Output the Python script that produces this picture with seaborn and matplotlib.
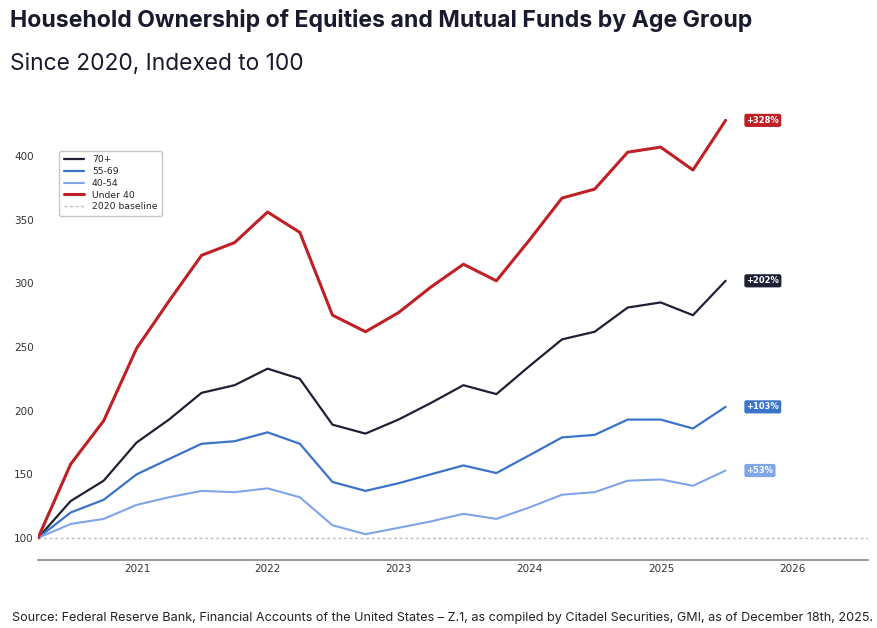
import pandas as pd
import numpy as np
import seaborn as sns
import matplotlib.pyplot as plt
import matplotlib.dates as mdates

# quarterly, indexed to 100 at Q1 2020
quarters = pd.date_range("2020-03-31", periods=22, freq="QE")
under_40 = [100, 158, 192, 249, 286, 322, 332, 356, 340, 275, 262, 277,
            297, 315, 302, 334, 367, 374, 403, 407, 389, 428]
age_70 = [100, 129, 145, 175, 193, 214, 220, 233, 225, 189, 182, 193,
          206, 220, 213, 235, 256, 262, 281, 285, 275, 302]
age_55_69 = [100, 120, 130, 150, 162, 174, 176, 183, 174, 144, 137, 143,
             150, 157, 151, 165, 179, 181, 193, 193, 186, 203]
age_40_54 = [100, 111, 115, 126, 132, 137, 136, 139, 132, 110, 103, 108,
             113, 119, 115, 124, 134, 136, 145, 146, 141, 153]

groups = ["70+", "55-69", "40-54", "Under 40"]
series = {"70+": age_70, "55-69": age_55_69, "40-54": age_40_54, "Under 40": under_40}
colors = {"70+": "#1e2133", "55-69": "#3b73c8", "40-54": "#7ea5e8", "Under 40": "#bf2026"}
widths = {"70+": 1.6, "55-69": 1.6, "40-54": 1.5, "Under 40": 2.2}
end_labels = {"70+": "+202%", "55-69": "+103%", "40-54": "+53%", "Under 40": "+328%"}

df = pd.concat([pd.DataFrame({"date": quarters, "value": series[g], "group": g}) for g in groups])

sns.set_style("white")
plt.rcParams["font.family"] = ["DejaVu Sans"]

fig = plt.figure(figsize=(8.78, 6.28), dpi=100)
ax = fig.add_axes([38 / 878, 1 - 560 / 628, 830 / 878, 460 / 628])

for g in groups:
    d = df[df.group == g]
    sns.lineplot(data=d, x="date", y="value", color=colors[g], lw=widths[g], label=g, ax=ax)

ax.axhline(100, color="#bbbbbb", lw=1, ls=(0, (2, 2)), label="2020 baseline", zorder=0)

# end-of-line percentage tags
for g in groups:
    ax.annotate(end_labels[g], xy=(quarters[-1], series[g][-1]), xytext=(15, 0),
                textcoords="offset points", ha="left", va="center", fontsize=6,
                color="white", fontweight="bold",
                bbox=dict(boxstyle="round,pad=0.25", fc=colors[g], ec="none"))

ax.set_xlim(quarters[0], pd.Timestamp("2026-08-01"))
ax.set_ylim(82.72, 444.0)
ax.set_yticks([100, 150, 200, 250, 300, 350, 400])
ax.xaxis.set_major_locator(mdates.YearLocator())
ax.xaxis.set_major_formatter(mdates.DateFormatter("%Y"))
ax.tick_params(axis="both", length=0, labelsize=7.5, colors="#333333", pad=3)
ax.set_xlabel("")
ax.set_ylabel("")
ax.spines[["top", "right", "left"]].set_visible(False)
ax.spines["bottom"].set_color("#888888")
ax.spines["bottom"].set_linewidth(1.2)

leg = ax.legend(loc="upper left", bbox_to_anchor=(0.02, 0.9), fontsize=6.7, frameon=True,
                handlelength=2.2, borderpad=0.5, labelspacing=0.3)
leg.get_frame().set_edgecolor("#bbbbbb")

fig.text(10 / 878, 1 - 20 / 628, "Household Ownership of Equities and Mutual Funds by Age Group",
         fontsize=16.6, fontweight="bold", family="Inter", color="#1a1a2e", va="center")
fig.text(10 / 878, 1 - 64 / 628, "Since 2020, Indexed to 100",
         fontsize=16.4, family="Inter", color="#1a1a2e", va="center")
fig.text(12 / 878, 1 - 618 / 628,
         "Source: Federal Reserve Bank, Financial Accounts of the United States \u2013 Z.1, as compiled by Citadel Securities, GMI, as of December 18th, 2025.",
         fontsize=9.1, family="Inter", color="#222222", va="center")

plt.savefig("out.png", dpi=100)
